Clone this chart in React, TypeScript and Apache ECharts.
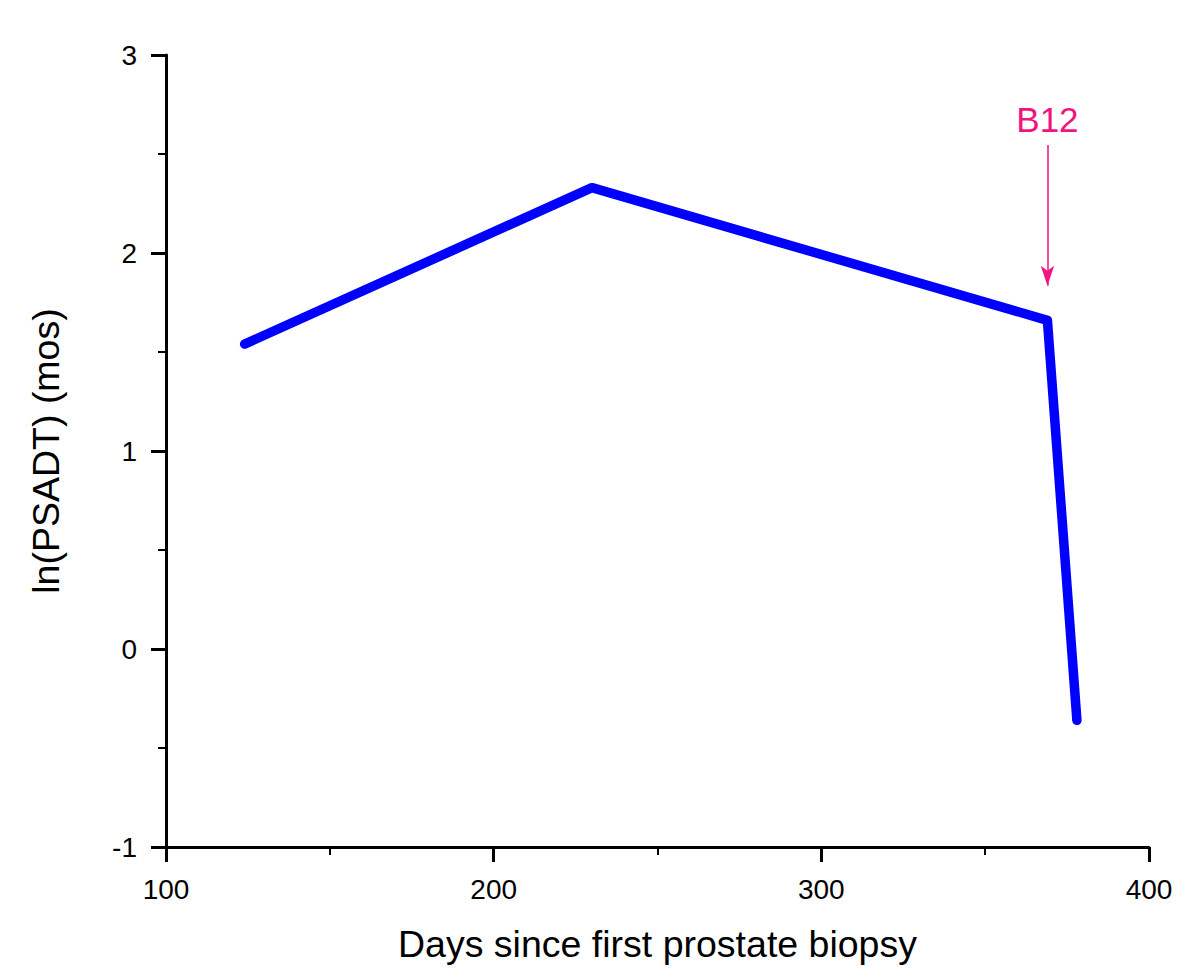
import React, { useEffect, useRef } from "react";
import * as echarts from "echarts";

const days: number[] = [124, 230, 369, 378];
const lnPsadt: number[] = [1.54, 2.33, 1.66, -0.36];
const xTicks = { min: 100, max: 400, interval: 100 };
const yTicks = { min: -1, max: 3, interval: 1 };
const markerLabel = "B12";
const markerDay = 369;
const markerFrom = 2.545;
const markerTo = 1.835;

const FONT = "'Liberation Sans', Arial, sans-serif";
const MAGENTA = "#f0147d";

export default function App() {
  const ref = useRef<HTMLDivElement>(null);
  useEffect(() => {
    if (!ref.current) return;
    const chart = echarts.init(ref.current, undefined, { renderer: "svg" });
    const axisCommon = {
      axisLine: { show: true, onZero: false, lineStyle: { color: "#000", width: 3 } },
      axisTick: { show: true, inside: false, length: 15, lineStyle: { color: "#000", width: 3 } },
      minorTick: { show: true, splitNumber: 2, length: 8, lineStyle: { color: "#000", width: 2 } },
      splitLine: { show: false },
      minorSplitLine: { show: false },
      nameTextStyle: { fontFamily: FONT, fontSize: 37.5, color: "#000" },
    };
    chart.setOption({
      animation: false,
      backgroundColor: "#fff",
      textStyle: { fontFamily: FONT },
      grid: { left: 166, right: 51, top: 55, bottom: 128, containLabel: false },
      xAxis: {
        type: "value",
        ...xTicks,
        ...axisCommon,
        name: "Days since first prostate biopsy",
        nameLocation: "middle",
        nameGap: 78,
        axisLabel: { fontFamily: FONT, fontSize: 28, color: "#000", margin: 28 },
      },
      yAxis: {
        type: "value",
        ...yTicks,
        ...axisCommon,
        name: "ln(PSADT) (mos)",
        nameLocation: "middle",
        nameGap: 101,
        axisLabel: { fontFamily: FONT, fontSize: 28, color: "#000", margin: 29 },
      },
      series: [
        {
          type: "line",
          data: days.map((d, i) => [d, lnPsadt[i]]),
          showSymbol: false,
          symbol: "none",
          lineStyle: { color: "#0000ff", width: 9.5, cap: "round", join: "round" },
          markLine: {
            silent: true,
            symbol: ["none", "arrow"],
            symbolSize: [10, 20],
            lineStyle: { color: MAGENTA, width: 1.5, type: "solid" },
            label: {
              show: true,
              position: "start",
              formatter: markerLabel,
              color: MAGENTA,
              fontFamily: FONT,
              fontSize: 35,
              distance: 8,
            },
            data: [[{ coord: [markerDay, markerFrom] }, { coord: [markerDay, markerTo] }]],
          },
        },
      ],
    });
    return () => chart.dispose();
  }, []);
  return <div ref={ref} style={{ width: 1200, height: 975, position: "absolute", left: 0, top: 0 }} />;
}
